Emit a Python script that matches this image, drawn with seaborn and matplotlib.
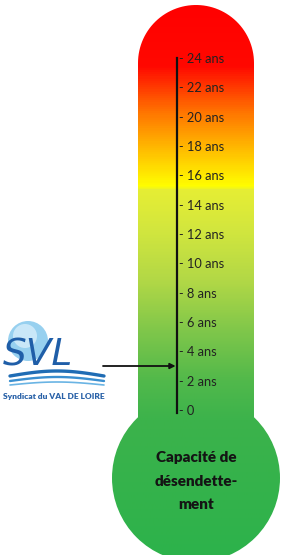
import numpy as np
import seaborn as sns
import matplotlib.pyplot as plt
from matplotlib.patches import Circle, PathPatch
from matplotlib.path import Path
from matplotlib.colors import LinearSegmentedColormap
from matplotlib.transforms import blended_transform_factory

# scale values
tick_years = [0, 2, 4, 6, 8, 10, 12, 14, 16, 18, 20, 22, 24]
tick_labels = ["- 0"] + [f"- {v} ans" for v in tick_years[1:]]
current_value = 3.0
bulb_label = "Capacité de\ndésendette-\nment"

# gradient stops (fraction from top, colour)
grad_pos = [0.0, 0.117, 0.2, 0.27, 0.335, 0.341, 0.415, 0.505, 0.595, 0.685, 0.757, 1.0]
grad_col = ["#ff0000", "#ff0800", "#ff7400", "#ffbe00", "#ffff00", "#e6ee34",
            "#d2e63e", "#b2d846", "#80c74a", "#52b94b", "#3cb34b", "#2db24b"]

sns.set_theme(style="white")
plt.rcParams["font.family"] = ["Lato", "DejaVu Sans"]

W, H = 281, 555
fig = plt.figure(figsize=(W / 100, H / 100), dpi=100)
bg = fig.add_axes([0, 0, 1, 1])
bg.set_xlim(0, W)
bg.set_ylim(H, 0)
bg.axis("off")

cmap = LinearSegmentedColormap.from_list("thermo", list(zip(grad_pos, grad_col)))
grad = np.linspace(0, 1, 556).reshape(-1, 1)

# thermometer body: tube with round cap + bulb
cx, tl, tr, cap_y, tube_bot = 196, 138, 254, 63, 430
r_cap = (tr - tl) / 2
theta = np.linspace(np.pi, 0, 60)
verts = [(tl, tube_bot)] + [(cx + r_cap * np.cos(t), cap_y - r_cap * np.sin(t)) for t in theta] + [(tr, tube_bot), (tl, tube_bot)]
tube = PathPatch(Path(verts, closed=True), facecolor="none", edgecolor="none")
bulb = Circle((cx, 478), 84, facecolor="none", edgecolor="none")
for patch in (tube, bulb):
    bg.add_patch(patch)
    im = bg.imshow(grad, cmap=cmap, aspect="auto", extent=[0, W, H, 0], interpolation="bilinear")
    im.set_clip_path(patch)

bg.text(cx, 481, bulb_label, ha="center", va="center", fontsize=11, fontweight="heavy",
        color="#141414", linespacing=1.95)

# scale axis
y0, y24 = 410, 58
ax = fig.add_axes([170 / W, (H - y0) / H, 7 / W, (y0 - y24) / H])
ax.patch.set_alpha(0)
ax.set_ylim(0, 24)
ax.set_xlim(0, 1)
for s in ("left", "top", "bottom"):
    ax.spines[s].set_visible(False)
ax.spines["right"].set_color("#111111")
ax.spines["right"].set_linewidth(1.6)
ax.spines["right"].set_bounds(-0.2, 24)
ax.set_xticks([])
ax.yaxis.tick_right()
ax.set_yticks(tick_years)
ax.set_yticklabels(tick_labels)
ax.tick_params(axis="y", length=0, pad=1.5, labelsize=9.3, labelcolor="#222222")

# arrow to current value
tr_arrow = blended_transform_factory(bg.transData, ax.transData)
ax.annotate("", xy=(1.0, current_value), xycoords=ax.get_yaxis_transform(),
            xytext=(103, current_value), textcoords=tr_arrow,
            arrowprops=dict(arrowstyle="-|>", color="#111111", lw=1.3, mutation_scale=8,
                            shrinkA=0, shrinkB=1))

# SVL logo
bg.add_patch(Circle((28, 341), 20, facecolor="#8ccbee", edgecolor="none", alpha=0.9))
bg.add_patch(Circle((25, 336), 12, facecolor="#d3ecfa", edgecolor="none", alpha=0.85))
bg.text(38, 356, "SVL", ha="center", va="center", fontsize=27, fontstyle="italic",
        color="#1f5ea8", family=["DejaVu Sans"])
xs = np.linspace(10, 104, 50)
for dy, amp, lw, c in [(376, 5, 2.4, "#1f6cb4"), (381, 4, 1.7, "#3a8fd0"), (385, 3, 1.2, "#6ab4e4")]:
    bg.plot(xs, dy - amp * np.sin((xs - 10) / 94 * np.pi), color=c, lw=lw, solid_capstyle="round")
bg.text(54, 397, "Syndicat du VAL DE LOIRE", ha="center", va="center", fontsize=6,
        fontweight="heavy", color="#2a62a8")

fig.savefig("out.png", dpi=100)
